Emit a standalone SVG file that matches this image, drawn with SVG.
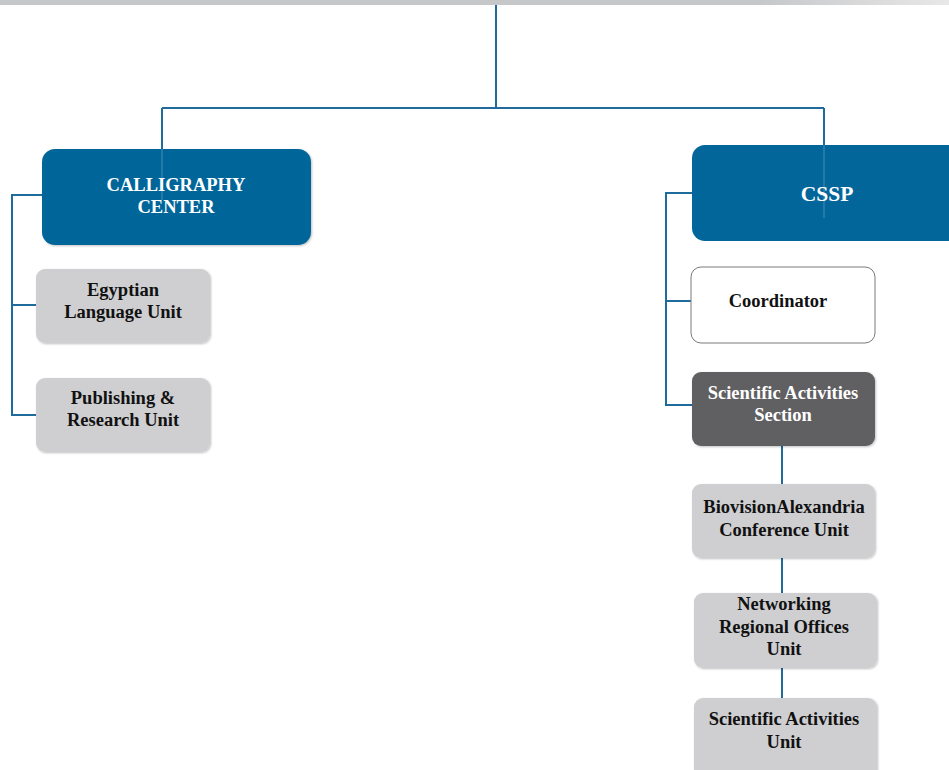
<svg xmlns="http://www.w3.org/2000/svg" width="949" height="770" viewBox="0 0 949 770">
<defs>
<linearGradient id="topbar" x1="0" y1="0" x2="1" y2="0">
<stop offset="0" stop-color="#c6c7c9"/>
<stop offset="0.8" stop-color="#c6c7c9"/>
<stop offset="1" stop-color="#e8e8e8"/>
</linearGradient>
<filter id="sh" x="-5%" y="-5%" width="110%" height="115%">
<feGaussianBlur in="SourceAlpha" stdDeviation="1.2"/>
<feOffset dx="1" dy="1" result="b"/>
<feFlood flood-color="#000" flood-opacity="0.25"/>
<feComposite in2="b" operator="in"/>
<feMerge><feMergeNode/><feMergeNode in="SourceGraphic"/></feMerge>
</filter>
</defs>
<style>
.ln{stroke:#1e6b9c;stroke-width:2;fill:none}
.blue{fill:#03669a}
.gray{fill:#cfcfd1}
.dark{fill:#605f62}
.white{fill:#ffffff;stroke:#7a7a7a;stroke-width:1}
text{font-family:"Liberation Serif","Times New Roman",serif;font-weight:bold;text-anchor:middle}
.tw{fill:#ffffff;font-size:18.5px}
.tb{fill:#111111;font-size:18.5px}
</style>
<rect x="0" y="0" width="949" height="5" fill="url(#topbar)"/>
<g id="connectors">
<path class="ln" d="M496,5 V108 M162,108 H824 M162,108 V149 M824,108 V145"/>
<path class="ln" d="M42,195 H12 V415 H36 M12,305 H36"/>
<path class="ln" d="M692,193 H666 V405 H692 M666,301 H691"/>
<path class="ln" d="M782,446 V484 M782,558 V593 M782,668 V698"/>
</g>
<g id="calligraphy">
<rect class="blue" x="42" y="149" width="269" height="96" rx="13" filter="url(#sh)"/>
<line x1="162" y1="149" x2="162" y2="200" stroke="#4a8ab5" stroke-width="1"/>
<text class="tw" x="176" y="191">CALLIGRAPHY</text>
<text class="tw" x="176" y="213">CENTER</text>
</g>
<g id="egyptian">
<rect class="gray" x="36" y="269" width="174" height="74" rx="9" filter="url(#sh)"/>
<text class="tb" x="123" y="296">Egyptian</text>
<text class="tb" x="123" y="318">Language Unit</text>
</g>
<g id="publishing">
<rect class="gray" x="36" y="378" width="174" height="74" rx="9" filter="url(#sh)"/>
<text class="tb" x="123" y="404">Publishing &amp;</text>
<text class="tb" x="123" y="426">Research Unit</text>
</g>
<g id="cssp">
<rect class="blue" x="692" y="145" width="270" height="96" rx="13"/>
<line x1="824" y1="145" x2="824" y2="218" stroke="#4a8ab5" stroke-width="1"/>
<text class="tw" x="827" y="201" style="font-size:21.5px">CSSP</text>
</g>
<g id="coordinator">
<rect class="white" x="691" y="267" width="184" height="76" rx="10"/>
<text class="tb" x="778" y="307">Coordinator</text>
</g>
<g id="sas">
<rect class="dark" x="692" y="372" width="183" height="74" rx="9" filter="url(#sh)"/>
<text class="tw" x="783" y="399">Scientific Activities</text>
<text class="tw" x="783" y="421">Section</text>
</g>
<g id="biovision">
<rect class="gray" x="692" y="484" width="183" height="74" rx="9" filter="url(#sh)"/>
<text class="tb" x="784" y="513">BiovisionAlexandria</text>
<text class="tb" x="784" y="536">Conference Unit</text>
</g>
<g id="networking">
<rect class="gray" x="694" y="593" width="183" height="75" rx="9" filter="url(#sh)"/>
<text class="tb" x="784" y="610">Networking</text>
<text class="tb" x="784" y="633">Regional Offices</text>
<text class="tb" x="784" y="655">Unit</text>
</g>
<g id="sau">
<rect class="gray" x="694" y="698" width="183" height="80" rx="9" filter="url(#sh)"/>
<text class="tb" x="784" y="725">Scientific Activities</text>
<text class="tb" x="784" y="748">Unit</text>
</g>
</svg>
